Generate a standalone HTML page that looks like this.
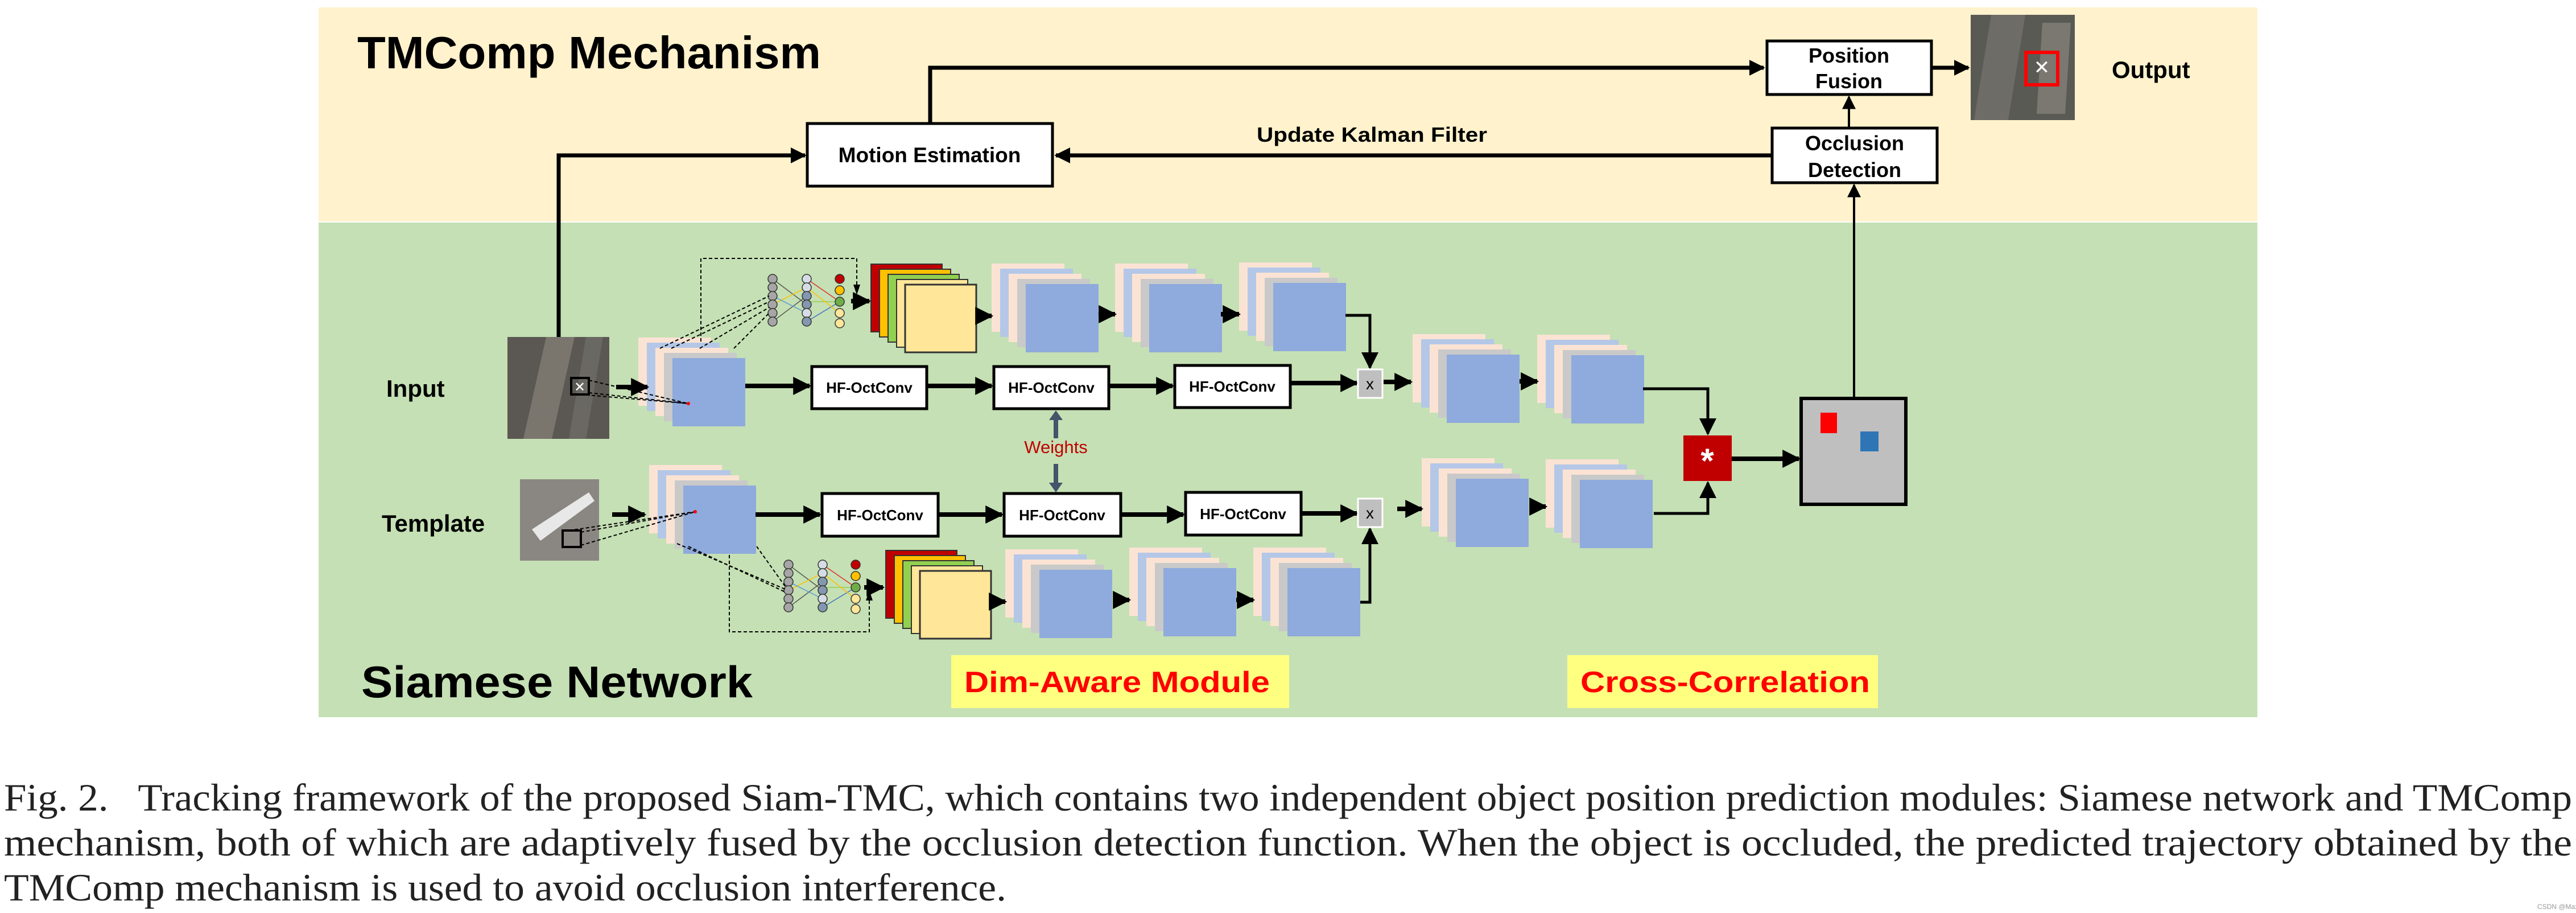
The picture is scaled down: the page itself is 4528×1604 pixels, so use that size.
<!DOCTYPE html>
<html><head><meta charset="utf-8"><style>html,body{margin:0;padding:0;background:#fff}svg{display:block}</style></head>
<body>
<svg width="4528" height="1604" viewBox="0 0 4528 1604" xmlns="http://www.w3.org/2000/svg" font-family="Liberation Sans, Arial, sans-serif">
<defs>
<g id="stk">
<rect x="0" y="0" width="128" height="120" fill="#fbe3d4"/>
<rect x="15" y="9" width="128" height="120" fill="#b4c7e7"/>
<rect x="30" y="18" width="128" height="120" fill="#fbe3d4"/>
<rect x="45" y="27" width="128" height="120" fill="#c9c9c9"/>
<rect x="60" y="36" width="128" height="120" fill="#8faadc"/>
</g>
<g id="col">
<rect x="0" y="0" width="125" height="119" fill="#c00000" stroke="#333" stroke-width="2"/>
<rect x="15" y="9" width="125" height="119" fill="#ffc000" stroke="#333" stroke-width="2"/>
<rect x="30" y="18" width="125" height="119" fill="#92d050" stroke="#333" stroke-width="2"/>
<rect x="45" y="27" width="125" height="119" fill="#ffe699" stroke="#333" stroke-width="2"/>
<rect x="60" y="36" width="125" height="119" fill="#ffe699" stroke="#333" stroke-width="3"/>
</g>
<g id="nn">
<g stroke="#555" stroke-width="1.5">
<line x1="0" y1="0" x2="60" y2="45"/><line x1="0" y1="75" x2="60" y2="30"/>
<line x1="60" y1="0" x2="118" y2="40" stroke="#e03030"/><line x1="60" y1="40" x2="118" y2="40" stroke="#92d050"/>
<line x1="60" y1="75" x2="118" y2="40" stroke="#4472c4"/><line x1="0" y1="45" x2="60" y2="15" stroke="#ffc000"/>
<line x1="0" y1="30" x2="60" y2="60" stroke="#5b9bd5"/><line x1="60" y1="15" x2="118" y2="60" stroke="#ffc000"/>
</g>
<g stroke="#333" stroke-width="1.5">
<ellipse cx="0" cy="0" rx="8" ry="8" fill="#a6a6a6"/><ellipse cx="0" cy="15" rx="8" ry="8" fill="#a6a6a6"/><ellipse cx="0" cy="30" rx="8" ry="8" fill="#a6a6a6"/><ellipse cx="0" cy="45" rx="8" ry="8" fill="#a6a6a6"/><ellipse cx="0" cy="60" rx="8" ry="8" fill="#a6a6a6"/><ellipse cx="0" cy="75" rx="8" ry="8" fill="#a6a6a6"/>
<ellipse cx="60" cy="0" rx="8" ry="8" fill="#d6dce5"/><ellipse cx="60" cy="15" rx="8" ry="8" fill="#d6dce5"/><ellipse cx="60" cy="30" rx="8" ry="8" fill="#8497b0"/><ellipse cx="60" cy="45" rx="8" ry="8" fill="#8497b0"/><ellipse cx="60" cy="60" rx="8" ry="8" fill="#d6dce5"/><ellipse cx="60" cy="75" rx="8" ry="8" fill="#8497b0"/>
<ellipse cx="118" cy="0" rx="8" ry="8" fill="#c00000"/><ellipse cx="118" cy="20" rx="8" ry="8" fill="#ffc000"/><ellipse cx="118" cy="40" rx="8" ry="8" fill="#70ad47"/><ellipse cx="118" cy="60" rx="8" ry="8" fill="#ffe699"/><ellipse cx="118" cy="78" rx="8" ry="8" fill="#ffe699"/>
</g>
</g>
<marker id="ah" viewBox="0 0 10 10" refX="9" refY="5" markerWidth="4" markerHeight="4" orient="auto"><path d="M0,0L10,5L0,10z" fill="#000"/></marker>
<marker id="ahs" viewBox="0 0 10 10" refX="9" refY="5" markerWidth="6" markerHeight="6" orient="auto"><path d="M0,0L10,5L0,10z" fill="#000"/></marker>
</defs>

<rect x="560" y="13" width="3408" height="376" fill="#fff2cc"/>
<rect x="560" y="391" width="3408" height="869" fill="#c5e0b4"/>

<text x="628" y="120" font-size="80" font-weight="bold" textLength="815" lengthAdjust="spacingAndGlyphs">TMComp Mechanism</text>
<text x="635" y="1225" font-size="78" font-weight="bold" textLength="688" lengthAdjust="spacingAndGlyphs">Siamese Network</text>

<g stroke="#000" fill="none">
<polyline points="1635,217 1635,119 3100,119" stroke-width="7" marker-end="url(#ah)"/>
<polyline points="982,592 982,273 1415,273" stroke-width="7" marker-end="url(#ah)"/>
<line x1="3115" y1="273" x2="1856" y2="273" stroke-width="7" marker-end="url(#ah)"/>
<line x1="3395" y1="119" x2="3460" y2="119" stroke-width="7" marker-end="url(#ah)"/>
<line x1="3250" y1="225" x2="3250" y2="170" stroke-width="4" marker-end="url(#ahs)"/>
<line x1="3259" y1="698" x2="3259" y2="325" stroke-width="4" marker-end="url(#ahs)"/>
</g>
<rect x="1419" y="217" width="431" height="110" fill="#fff" stroke="#000" stroke-width="5"/>
<text x="1634" y="285" font-size="37" font-weight="bold" text-anchor="middle">Motion Estimation</text>
<rect x="3106" y="72" width="289" height="94" fill="#fff" stroke="#000" stroke-width="5"/>
<text x="3250" y="110" font-size="36" font-weight="bold" text-anchor="middle">Position</text>
<text x="3250" y="155" font-size="36" font-weight="bold" text-anchor="middle">Fusion</text>
<rect x="3115" y="225" width="290" height="96" fill="#fff" stroke="#000" stroke-width="5"/>
<text x="3260" y="264" font-size="36" font-weight="bold" text-anchor="middle">Occlusion</text>
<text x="3260" y="311" font-size="36" font-weight="bold" text-anchor="middle">Detection</text>
<text x="2209" y="249" font-size="36" font-weight="bold" textLength="405" lengthAdjust="spacingAndGlyphs">Update Kalman Filter</text>

<rect x="3464" y="26" width="183" height="185" fill="#5a5a55"/>
<polygon points="3500,26 3560,26 3530,211 3470,211" fill="#6e6c66"/>
<polygon points="3590,40 3640,40 3630,200 3580,200" fill="#7a7870"/>
<rect x="3561" y="92" width="56" height="57" fill="none" stroke="#ff0000" stroke-width="6"/>
<text x="3589" y="130" font-size="34" fill="#fff" text-anchor="middle">✕</text>
<text x="3712" y="137" font-size="42" font-weight="bold">Output</text>

<rect x="892" y="592" width="179" height="179" fill="#5b5853"/>
<polygon points="960,592 1010,592 970,771 920,771" fill="#7a766e"/>
<polygon points="1030,592 1060,592 1030,771 1000,771" fill="#6a6862"/>
<rect x="1004" y="664" width="31" height="29" fill="none" stroke="#000" stroke-width="4"/>
<text x="1019" y="688" font-size="24" fill="#fff" text-anchor="middle">✕</text>
<text x="679" y="697" font-size="42" font-weight="bold">Input</text>

<rect x="914" y="842" width="139" height="143" fill="#8a8782"/>
<path d="M935,930 L1035,865 L1045,880 L950,950 Z" fill="#e8e8e8"/>
<rect x="989" y="932" width="32" height="29" fill="none" stroke="#000" stroke-width="4"/>
<text x="671" y="934" font-size="42" font-weight="bold">Template</text>

<use href="#stk" x="1122" y="593"/>
<use href="#stk" x="1743" y="463"/>
<use href="#stk" x="1960" y="463"/>
<use href="#stk" x="2178" y="461"/>
<use href="#stk" x="2483" y="587"/>
<use href="#stk" x="2702" y="588"/>
<use href="#stk" x="1141" y="817"/>
<use href="#stk" x="1767" y="965"/>
<use href="#stk" x="1985" y="962"/>
<use href="#stk" x="2203" y="962"/>
<use href="#stk" x="2499" y="805"/>
<use href="#stk" x="2717" y="807"/>
<use href="#col" x="1531" y="464"/>
<use href="#col" x="1557" y="967"/>
<use href="#nn" x="1358" y="490"/>
<use href="#nn" x="1386" y="992"/>

<g stroke="#000" stroke-width="2" fill="none" stroke-dasharray="6,4">
<line x1="1035" y1="668" x2="1210" y2="709"/><line x1="1035" y1="690" x2="1210" y2="709"/><line x1="1020" y1="693" x2="1210" y2="709"/>
<line x1="1160" y1="612" x2="1352" y2="520"/><line x1="1180" y1="612" x2="1352" y2="530"/><line x1="1230" y1="612" x2="1352" y2="540"/><line x1="1290" y1="612" x2="1352" y2="550"/>
<polyline points="1232,600 1232,454 1506,454 1506,505"/>
<line x1="1021" y1="935" x2="1222" y2="899"/><line x1="1021" y1="958" x2="1222" y2="899"/><line x1="1000" y1="932" x2="1222" y2="899"/>
<line x1="1190" y1="955" x2="1380" y2="1035"/><line x1="1210" y1="960" x2="1380" y2="1040"/><line x1="1330" y1="960" x2="1380" y2="1030"/>
<polyline points="1282,975 1282,1110 1528,1110 1528,1050"/>
</g>
<path d="M1500,500 L1512,500 L1506,518 Z"/>
<path d="M1522,1055 L1534,1055 L1528,1037 Z"/>
<circle cx="1210" cy="709" r="3" fill="#f00"/>
<circle cx="1222" cy="899" r="3" fill="#f00"/>

<g stroke="#000" stroke-width="8" fill="none" marker-end="url(#ah)">
<line x1="1083" y1="680" x2="1138" y2="680"/>
<line x1="1310" y1="678" x2="1423" y2="678"/>
<line x1="1629" y1="678" x2="1743" y2="678"/>
<line x1="1949" y1="678" x2="2061" y2="678"/>
<line x1="1496" y1="529" x2="1528" y2="529"/>
<line x1="1716" y1="555" x2="1743" y2="555"/>
<line x1="1931" y1="552" x2="1960" y2="552"/>
<line x1="2146" y1="552" x2="2178" y2="552"/>
<line x1="2268" y1="673" x2="2385" y2="673"/>
<line x1="2432" y1="671" x2="2480" y2="671"/>
<line x1="2671" y1="670" x2="2702" y2="670"/>
<line x1="1076" y1="904" x2="1133" y2="904"/>
<line x1="1328" y1="904" x2="1441" y2="904"/>
<line x1="1649" y1="904" x2="1761" y2="904"/>
<line x1="1970" y1="904" x2="2080" y2="904"/>
<line x1="1519" y1="1032" x2="1552" y2="1032"/>
<line x1="1740" y1="1057" x2="1767" y2="1057"/>
<line x1="1957" y1="1054" x2="1985" y2="1054"/>
<line x1="2173" y1="1054" x2="2203" y2="1054"/>
<line x1="2287" y1="902" x2="2385" y2="902"/>
<line x1="2456" y1="894" x2="2499" y2="894"/>
<line x1="2689" y1="890" x2="2717" y2="890"/>
<line x1="3044" y1="806" x2="3162" y2="806"/>
</g>
<g stroke="#000" stroke-width="5" fill="none">
<polyline points="2365,554 2408,554 2408,646" marker-end="url(#ahs)"/>
<polyline points="2391,1058 2408,1058 2408,929" marker-end="url(#ahs)"/>
<polyline points="2888,683 3002,683 3002,762" marker-end="url(#ahs)"/>
<polyline points="2907,902 3002,902 3002,848" marker-end="url(#ahs)"/>
</g>
<g stroke="#44546a" stroke-width="8" fill="#44546a">
<line x1="1856" y1="770" x2="1856" y2="735"/><path d="M1844,738 L1868,738 L1856,721 Z" stroke="none"/>
<line x1="1856" y1="815" x2="1856" y2="850"/><path d="M1844,848 L1868,848 L1856,865 Z" stroke="none"/>
</g>
<text x="1856" y="796" font-size="31" fill="#c00000" text-anchor="middle">Weights</text>

<g fill="#fff" stroke="#000" stroke-width="5">
<rect x="1427" y="644" width="202" height="74"/><rect x="1747" y="644" width="202" height="74"/><rect x="2065" y="642" width="203" height="74"/>
<rect x="1445" y="867" width="204" height="75"/><rect x="1765" y="867" width="205" height="75"/><rect x="2084" y="865" width="203" height="75"/>
</g>
<g font-size="26" font-weight="bold" text-anchor="middle">
<text x="1528" y="690">HF-OctConv</text><text x="1848" y="690">HF-OctConv</text><text x="2166" y="688">HF-OctConv</text>
<text x="1547" y="914">HF-OctConv</text><text x="1867" y="914">HF-OctConv</text><text x="2185" y="912">HF-OctConv</text>
</g>
<rect x="2387" y="649" width="43" height="50" fill="#bfbfbf" stroke="#fff" stroke-width="3"/>
<text x="2408" y="684" font-size="28" text-anchor="middle">x</text>
<rect x="2387" y="876" width="43" height="50" fill="#bfbfbf" stroke="#fff" stroke-width="3"/>
<text x="2408" y="911" font-size="28" text-anchor="middle">x</text>

<rect x="2959" y="765" width="85" height="80" fill="#c00000"/>
<text x="3001" y="830" font-size="60" fill="#fff" text-anchor="middle" font-weight="bold">*</text>
<rect x="3166" y="700" width="184" height="186" fill="#bfbfbf" stroke="#000" stroke-width="6"/>
<rect x="3200" y="725" width="29" height="36" fill="#ff0000"/>
<rect x="3270" y="758" width="32" height="35" fill="#2e75b6"/>

<rect x="1672" y="1151" width="594" height="93" fill="#ffff80"/>
<text x="1695" y="1216" font-size="52" font-weight="bold" fill="#ff0000" textLength="537" lengthAdjust="spacingAndGlyphs">Dim-Aware Module</text>
<rect x="2755" y="1151" width="546" height="93" fill="#ffff80"/>
<text x="2778" y="1216" font-size="52" font-weight="bold" fill="#ff0000" textLength="509" lengthAdjust="spacingAndGlyphs">Cross-Correlation</text>

<g font-family="Liberation Serif, Times New Roman, serif" font-size="68" fill="#222">
<text x="7" y="1424" textLength="4514" lengthAdjust="spacingAndGlyphs" xml:space="preserve">Fig. 2.   Tracking framework of the proposed Siam-TMC, which contains two independent object position prediction modules: Siamese network and TMComp</text>
<text x="7" y="1503" textLength="4514" lengthAdjust="spacingAndGlyphs">mechanism, both of which are adaptively fused by the occlusion detection function. When the object is occluded, the predicted trajectory obtained by the</text>
<text x="7" y="1582" textLength="1762" lengthAdjust="spacingAndGlyphs">TMComp mechanism is used to avoid occlusion interference.</text>
</g>
<text x="4460" y="1597" font-size="12" fill="#999">CSDN @MaxCoob</text>
</svg>
</body></html>
